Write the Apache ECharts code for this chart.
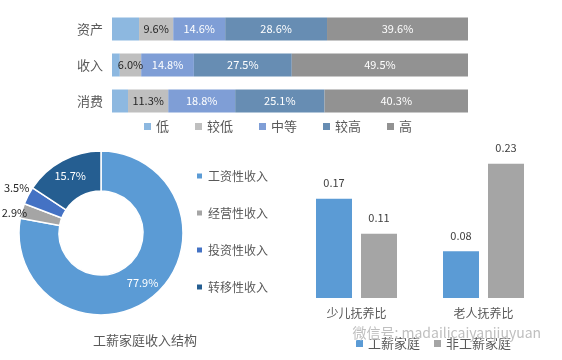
<!DOCTYPE html>
<html><head><meta charset="utf-8">
<script src="https://cdn.jsdelivr.net/npm/echarts@6/dist/echarts.min.js"></script>
<style>html,body{margin:0;padding:0;background:#fff}#c{width:562px;height:360px}</style>
</head><body><div id="c"></div>
<script>
// Stacked bar data
const stackCats = ['资产', '收入', '消费'];
const levelNames = ['低', '较低', '中等', '较高', '高'];
const lowVals = [7.6, 2.2, 4.5];
const lowerVals = [9.6, 6.0, 11.3];
const midVals = [14.6, 14.8, 18.8];
const higherVals = [28.6, 27.5, 25.1];
const highVals = [39.6, 49.5, 40.3];
// Pie data
const pieNames = ['工资性收入', '经营性收入', '投资性收入', '转移性收入'];
const pieVals = [77.9, 2.9, 3.5, 15.7];
const pieTitle = '工薪家庭收入结构';
// Dependency ratio bars
const ratioCats = ['少儿抚养比', '老人抚养比'];
const workerVals = [0.17, 0.08];
const nonWorkerVals = [0.11, 0.23];
const ratioSeries = ['工薪家庭', '非工薪家庭'];
const watermark = '微信号: madailicaiyanjiuyuan';

const FONT = '"Noto Sans CJK SC", "Noto Sans", sans-serif';
const levelColors = ['#8DB8E0', '#BFBFBF', '#7F9ED6', '#678DB3', '#929292'];
const levelData = [lowVals, lowerVals, midVals, higherVals, highVals];
const pieColors = ['#5B9BD5', '#A5A5A5', '#4472C4', '#255E91'];

const chart = echarts.init(document.getElementById('c'));

const stackSeries = levelNames.map((n, i) => ({
  name: n, type: 'bar', stack: 's', xAxisIndex: 0, yAxisIndex: 0,
  data: levelData[i], barWidth: 23,
  itemStyle: { color: levelColors[i] },
  label: {
    show: i > 0, position: 'inside', fontSize: 11, fontFamily: FONT,
    color: i === 1 ? '#262626' : '#FFFFFF',
    formatter: p => p.value.toFixed(1) + '%'
  },
  emphasis: { disabled: true }
}));

const option = {
  animation: false,
  textStyle: { fontFamily: FONT },
  grid: [
    { left: 112, right: 94, top: 11, height: 108 },
    { left: 293, right: 15, top: 152, bottom: 62 }
  ],
  xAxis: [
    { type: 'value', gridIndex: 0, min: 0, max: 100, show: false },
    { type: 'category', gridIndex: 1, data: ratioCats,
      axisLine: { show: false }, axisTick: { show: false },
      axisLabel: { color: '#595959', fontSize: 12, margin: 9, fontFamily: FONT } }
  ],
  yAxis: [
    { type: 'category', gridIndex: 0, data: stackCats, inverse: true,
      axisLine: { show: false }, axisTick: { show: false },
      axisLabel: { color: '#595959', fontSize: 13, margin: 9, fontFamily: FONT } },
    { type: 'value', gridIndex: 1, min: 0, max: 0.25, show: false }
  ],
  legend: [
    { data: levelNames, left: 139, top: 115, itemWidth: 7, itemHeight: 7, itemGap: 26,
      icon: 'rect', textStyle: { color: '#595959', fontSize: 13, fontFamily: FONT } },
    { data: pieNames, orient: 'vertical', left: 190, top: 165, itemWidth: 7, itemHeight: 7, itemGap: 25,
      icon: 'rect', textStyle: { color: '#595959', fontSize: 12, fontFamily: FONT } },
    { data: ratioSeries, left: 351, top: 332, itemWidth: 7, itemHeight: 7, itemGap: 14,
      icon: 'rect', textStyle: { color: '#595959', fontSize: 13, fontFamily: FONT } }
  ],
  title: {
    text: pieTitle, left: 88, top: 329,
    textStyle: { color: '#595959', fontSize: 13, fontWeight: 'normal', fontFamily: FONT }
  },
  series: [
    ...stackSeries,
    {
      type: 'pie', center: [101, 233], radius: [42, 82], startAngle: 90, clockwise: true,
      avoidLabelOverlap: false,
      itemStyle: { borderColor: '#fff', borderWidth: 1.5 },
      emphasis: { disabled: true },
      labelLine: { show: false, length: 2, length2: 0 },
      labelLayout: function (p) {
        if (p.dataIndex === 1) return { dx: 9, dy: 2 };
        if (p.dataIndex === 2) return { dx: 5, dy: -7 };
        return {};
      },
      data: pieNames.map((n, i) => ({
        name: n, value: pieVals[i], itemStyle: { color: pieColors[i] },
        label: (i === 1 || i === 2)
          ? { show: true, position: 'outside', distanceToLabelLine: 2, color: '#262626', fontSize: 11 }
          : { show: true, position: 'inside', color: '#fff', fontSize: 11 }
      })),
      label: { formatter: p => p.value.toFixed(1) + '%', fontFamily: FONT }
    },
    {
      name: ratioSeries[0], type: 'bar', xAxisIndex: 1, yAxisIndex: 1, data: workerVals,
      barWidth: 36, barGap: '25%', itemStyle: { color: '#5B9BD5' },
      label: { show: true, position: 'top', distance: 10, color: '#404040', fontSize: 11, fontFamily: FONT },
      emphasis: { disabled: true }
    },
    {
      name: ratioSeries[1], type: 'bar', xAxisIndex: 1, yAxisIndex: 1, data: nonWorkerVals,
      barWidth: 36, barGap: '25%', itemStyle: { color: '#A5A5A5' },
      label: { show: true, position: 'top', distance: 10, color: '#404040', fontSize: 11, fontFamily: FONT },
      emphasis: { disabled: true }
    }
  ],
  graphic: [
    { type: 'text', left: 352, top: 325, silent: true, z: 100,
      style: { text: watermark, fill: 'rgba(170,170,170,0.75)', stroke: 'rgba(255,255,255,0.8)', lineWidth: 1,
               font: '14px ' + FONT } }
  ]
};
chart.setOption(option);
</script></body></html>
